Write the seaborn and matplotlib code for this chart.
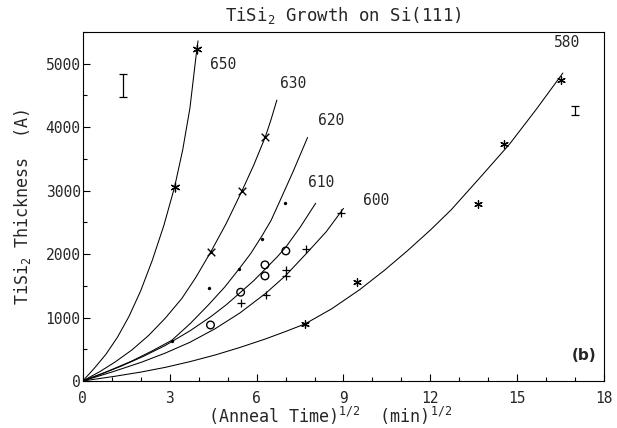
import numpy as np
import pandas as pd
import matplotlib
matplotlib.use("Agg")
import matplotlib.pyplot as plt
from matplotlib.ticker import MultipleLocator
import seaborn as sns

# ---------------- data ----------------
temps = ["650", "630", "620", "610", "600", "580"]

# fitted curves (vertices)
c650_x = [0, 0.40, 0.80, 1.20, 1.60, 2.00, 2.40, 2.80, 3.17, 3.45, 3.70, 3.94, 3.98]
c650_y = [0, 200, 420, 690, 1020, 1420, 1900, 2450, 3055, 3640, 4300, 5232, 5360]
c630_x = [0, 0.60, 1.12, 1.70, 2.28, 2.85, 3.42, 3.90, 4.42, 4.95, 5.49, 5.90, 6.30, 6.50, 6.70]
c630_y = [0, 150, 300, 490, 720, 990, 1300, 1630, 2035, 2480, 2990, 3400, 3844, 4120, 4427]
c620_x = [0, 0.85, 1.70, 2.40, 3.07, 3.70, 4.34, 4.90, 5.39, 5.80, 6.19, 6.50, 6.78, 7.26, 7.76]
c620_y = [0, 150, 316, 475, 640, 900, 1200, 1480, 1762, 2010, 2290, 2530, 2812, 3300, 3838]
c610_x = [0, 0.70, 1.36, 2.10, 2.85, 3.70, 4.41, 4.95, 5.45, 5.90, 6.29, 6.70, 7.01, 7.50, 8.04]
c610_y = [0, 120, 240, 390, 560, 790, 1010, 1200, 1399, 1580, 1760, 1950, 2110, 2420, 2802]
c600_x = [0, 1.00, 2.04, 2.85, 3.70, 4.57, 5.43, 6.31, 7.00, 7.72, 8.40, 9.00]
c600_y = [0, 140, 298, 440, 610, 824, 1074, 1380, 1660, 2010, 2350, 2720]
c580_x = [0, 1.12, 2.00, 2.85, 3.70, 4.57, 5.40, 6.29, 7.00, 7.67, 8.60, 9.56,
          10.40, 11.20, 12.00, 12.72, 13.70, 14.73, 15.65, 16.57]
c580_y = [0, 75, 140, 215, 305, 410, 525, 660, 780, 899, 1140, 1440,
          1740, 2050, 2380, 2700, 3200, 3733, 4280, 4853]

# measured points
p650_x = [3.17, 3.94]
p650_y = [3055, 5232]
p630_x = [4.42, 5.49, 6.30]
p630_y = [2035, 3000, 3844]
p620_x = [3.07, 4.37, 5.39, 6.19, 6.97]
p620_y = [631, 1472, 1762, 2240, 2803]
p610_x = [4.41, 5.45, 6.29, 6.29, 7.01]
p610_y = [883, 1399, 1656, 1830, 2050]
p600_x = [5.45, 6.31, 7.01, 7.01, 7.72, 8.90]
p600_y = [1235, 1356, 1650, 1750, 2082, 2645]
p580_x = [7.67, 9.47, 13.64, 14.54, 16.52]
p580_y = [899, 1566, 2787, 3733, 4748]

# curve labels (left edge x, centre y)
label_x = [4.40, 6.80, 8.12, 7.76, 9.66, 16.26]
label_y = [4995, 4696, 4100, 3128, 2844, 5327]

# error bars
err_x = [1.38, 17.0]
err_y = [4660, 4266]
err_h = [180, 70]

x_ticks = [0, 3, 6, 9, 12, 15, 18]
y_ticks = [0, 1000, 2000, 3000, 4000, 5000]

# ---------------- plotting ----------------
sns.set_style("ticks")
plt.rcParams["font.family"] = ["DejaVu Sans Mono", "DejaVu Sans"]
plt.rcParams["mathtext.default"] = "regular"

W, H = 617, 428
fig = plt.figure(figsize=(W / 100, H / 100), dpi=100)
L, R, T, B = 82.7, 604.3, 32, 381
ax = fig.add_axes([L / W, (H - B) / H, (R - L) / W, (B - T) / H])

curves = [(c650_x, c650_y), (c630_x, c630_y), (c620_x, c620_y),
          (c610_x, c610_y), (c600_x, c600_y), (c580_x, c580_y)]
for cx, cy in curves:
    sns.lineplot(x=cx, y=cy, ax=ax, color="black", linewidth=0.75,
                 sort=False, estimator=None)

ast = (6, 2, 0)
pts = [
    (p650_x, p650_y, dict(marker=ast, s=40, color="black", linewidth=0.9)),
    (p630_x, p630_y, dict(marker="x", s=30, color="black", linewidth=1.0)),
    (p620_x, p620_y, dict(marker="o", s=5, color="black", edgecolor="black")),
    (p610_x, p610_y, dict(marker="o", s=30, facecolor="none",
                          edgecolor="black", linewidth=1.0)),
    (p600_x, p600_y, dict(marker="+", s=36, color="black", linewidth=0.9)),
    (p580_x, p580_y, dict(marker=ast, s=30, color="black", linewidth=0.9)),
]
for px, py, kw in pts:
    sns.scatterplot(x=px, y=py, ax=ax, legend=False, zorder=3, **kw)

ax.errorbar(err_x, err_y, yerr=err_h, fmt="none", ecolor="black",
            elinewidth=0.9, capsize=3, capthick=0.9)

for t, lx, ly in zip(temps, label_x, label_y):
    ax.text(lx, ly, t, ha="left", va="center", fontsize=10.5)

ax.text(17.3, 405, "(b)", ha="center", va="center", fontsize=11,
        fontweight="bold", family="DejaVu Sans")

ax.set_xlim(0, 18)
ax.set_ylim(0, 5500)
ax.set_xticks(x_ticks)
ax.set_yticks(y_ticks)
ax.xaxis.set_minor_locator(MultipleLocator(1))
ax.yaxis.set_minor_locator(MultipleLocator(500))
ax.tick_params(which="both", direction="in", width=0.8, color="black",
               top=False, right=False)
ax.tick_params(which="major", length=5, labelsize=10.5)
ax.tick_params(which="minor", length=3)
ax.tick_params(axis="y", which="major", pad=1.5)
ax.tick_params(axis="x", which="major", pad=7)

for sp in ax.spines.values():
    sp.set_visible(True)
    sp.set_linewidth(0.8)
    sp.set_color("black")

ax.set_title("TiSi$_2$ Growth on Si(111)", fontsize=12.5, pad=8)
ax.set_xlabel("(Anneal Time)$^{1/2}$  (min)$^{1/2}$", fontsize=12)
ax.set_ylabel("TiSi$_2$ Thickness  (A)", fontsize=12)
ax.xaxis.set_label_coords(0.474, -0.068)
ax.yaxis.set_label_coords(-0.095, 0.5)

fig.savefig("out.png", dpi=100, facecolor="white")
